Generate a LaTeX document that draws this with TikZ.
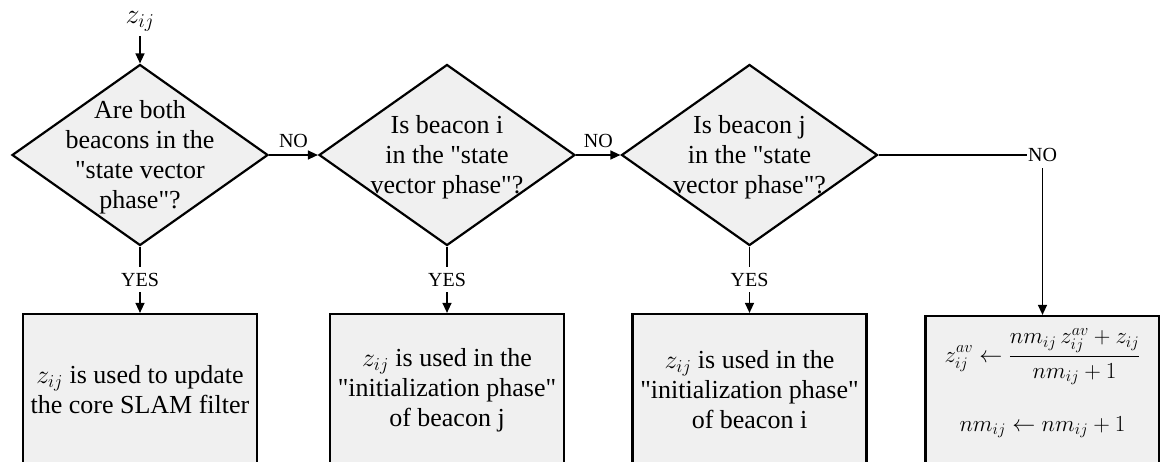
\RequirePackage{fix-cm}
\documentclass[tikz,border=0pt]{standalone}
\usepackage{amsmath}
\usepackage{fontspec}
\setmainfont{Liberation Serif}
\newfontfamily\plainserif{Liberation Serif}
\usetikzlibrary{shapes.geometric,arrows.meta}
\definecolor{boxfill}{HTML}{F0F0F0}
\tikzset{
  decision/.style={shape=diamond, draw, line width=2.2pt, fill=boxfill,
    minimum width=256pt, minimum height=181pt, inner sep=0pt, aspect=1.414},
  actionbox/.style={rectangle, draw, line width=2.2pt, fill=boxfill,
    minimum width=234pt, minimum height=152pt, align=center,
    font=\fontsize{26}{30}\selectfont},
  flow/.style={line width=1.3pt, -{Triangle[length=10pt,width=9pt]}},
  lbl/.style={font=\fontsize{20}{22}\selectfont, inner sep=2pt},
  cutlbl/.style={lbl, fill=white, inner xsep=1pt, inner ysep=6pt},
}
% straight double quote (no TeX ligature mapping in this family)
\newcommand{\dq}{{\plainserif"}}
% question text that may spill over the diamond outline
\newcommand{\qtext}[1]{\smash{\raisebox{-8.5pt}{\makebox[0pt]{\fontsize{26}{30}\selectfont
  \begin{tabular}{@{}c@{}}#1\end{tabular}}}}}
\begin{document}
\begin{tikzpicture}[x=1pt, y=-1pt]
  \useasboundingbox (0,0) rectangle (1160,461);
  \clip (0,0) rectangle (1160,461);
  \fill[white] (0,0) rectangle (1160,461);

  % input
  \node[font=\fontsize{28}{30}\selectfont, inner sep=5pt] (zin) at (140,21) {$z_{ij}$};

  % decisions
  \node[decision] (d1) at (140,155)
    {\qtext{Are both\\beacons in the\\\dq state vector\\phase\dq?}};
  \node[decision] (d2) at (447,155)
    {\qtext{Is beacon i\\in the \dq state\\vector phase\dq?}};
  \node[decision] (d3) at (749.5,155)
    {\qtext{Is beacon j\\in the \dq state\\vector phase\dq?}};

  % actions
  \node[actionbox] (b1) at (140,390)
    {$z_{ij}$ is used to update\\the core SLAM filter};
  \node[actionbox] (b2) at (447,390)
    {$z_{ij}$ is used in the\\\dq initialization phase\dq\\of beacon j};
  \node[actionbox] (b3) at (749.5,390)
    {$z_{ij}$ is used in the\\\dq initialization phase\dq\\of beacon i};
  \node[actionbox, font=\fontsize{23}{28}\selectfont] (b4) at (1042.5,392)
    {$\displaystyle z^{av}_{ij} \leftarrow \frac{nm_{ij}\,z^{av}_{ij}+z_{ij}}{nm_{ij}+1}$\\[31pt]
     $nm_{ij} \leftarrow nm_{ij}+1$\\[-4pt]};

  % connectors
  \draw[flow] (zin) -- (d1.north);
  \draw[flow] (d1.east) -- node[lbl, above=5pt] (no1) {NO} (d2.west);
  \draw[flow] (d2.east) -- node[lbl, above=5pt] (no2) {NO} (d3.west);
  \draw[flow] (d3.east) -| node[cutlbl, pos=0.5] (no3) {NO} (b4.north);
  \draw[flow] (d1.south) -- node[cutlbl] (yes1) {YES} (b1.north);
  \draw[flow] (d2.south) -- node[cutlbl] (yes2) {YES} (b2.north);
  \draw[flow] (d3.south) -- node[cutlbl] (yes3) {YES} (b3.north);
\end{tikzpicture}
\end{document}
